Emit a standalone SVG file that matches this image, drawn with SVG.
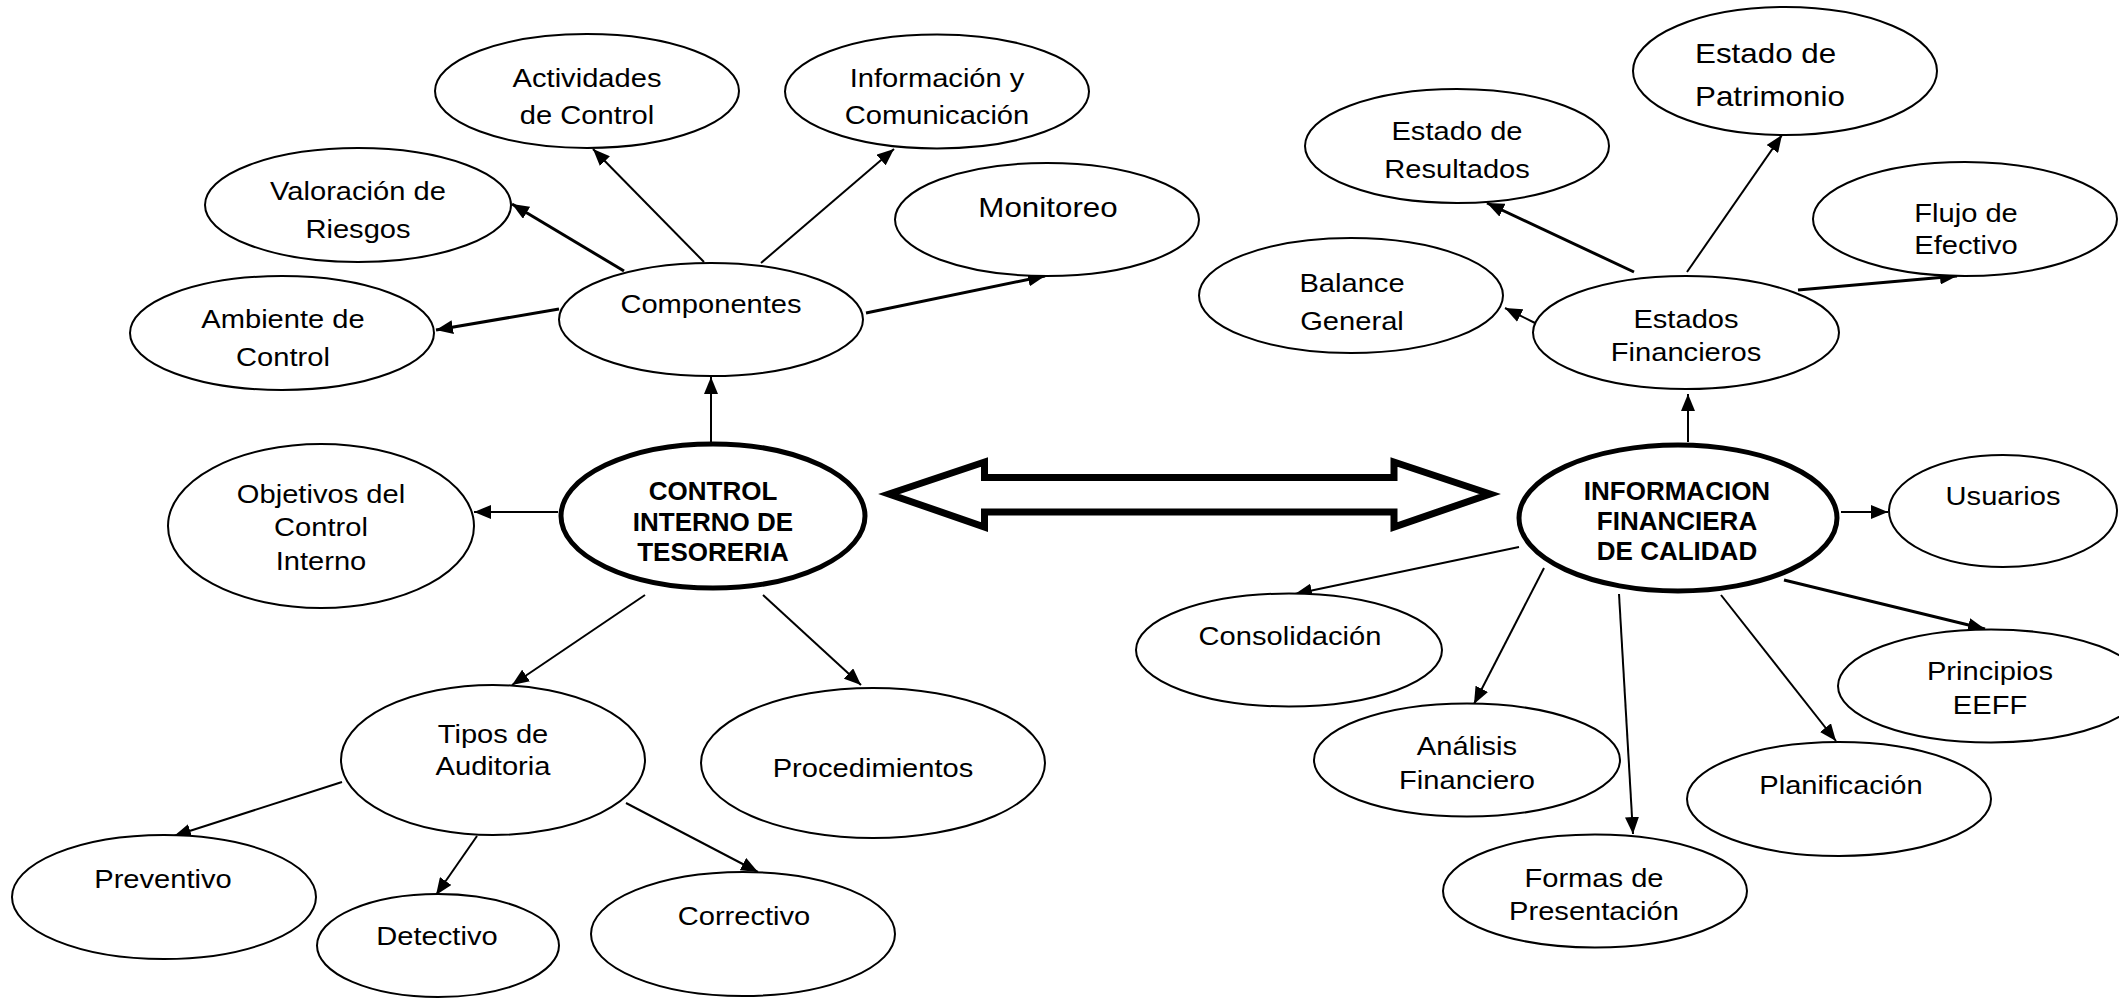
<svg xmlns="http://www.w3.org/2000/svg" width="2119" height="999" viewBox="0 0 2119 999">
<style>
.n{fill:#fff;stroke:#000;stroke-width:2}
.m{fill:#fff;stroke:#000;stroke-width:5}
.t{font-family:"Liberation Sans",Arial,sans-serif;font-size:26px;text-anchor:middle;fill:#000}
.tl{font-family:"Liberation Sans",Arial,sans-serif;font-size:28px;text-anchor:middle;fill:#000}
.b{font-family:"Liberation Sans",Arial,sans-serif;font-size:26px;font-weight:bold;text-anchor:middle;fill:#000}
.c{stroke:#000;stroke-width:2;fill:none;marker-end:url(#ah)}
.c3{stroke:#000;stroke-width:3;fill:none;marker-end:url(#ah)}
</style>
<defs>
<marker id="ah" markerUnits="userSpaceOnUse" markerWidth="18" markerHeight="14" refX="17" refY="7" orient="auto">
<path d="M0,0 L17,7 L0,14 z" fill="#000"/>
</marker>
</defs>
<rect width="2119" height="999" fill="#fff"/>

<g id="connectors">
<line class="c" x1="711" y1="443" x2="711" y2="377"/>
<line class="c3" x1="624" y1="271" x2="512" y2="204"/>
<line class="c" x1="704" y1="262" x2="593" y2="149"/>
<line class="c" x1="761" y1="263" x2="894" y2="149"/>
<line class="c3" x1="866" y1="313" x2="1045" y2="276"/>
<line class="c3" x1="559" y1="309" x2="436" y2="330"/>
<line class="c" x1="558" y1="512" x2="474" y2="512"/>
<line class="c" x1="645" y1="595" x2="512" y2="685"/>
<line class="c" x1="763" y1="595" x2="861" y2="685"/>
<line class="c" x1="342" y1="782" x2="174" y2="836"/>
<line class="c" x1="477" y1="836" x2="436" y2="895"/>
<line class="c" x1="626" y1="803" x2="758" y2="872"/>
<line class="c" x1="1688" y1="442" x2="1688" y2="394"/>
<line class="c3" x1="1634" y1="272" x2="1487" y2="203"/>
<line class="c" x1="1687" y1="272" x2="1782" y2="135"/>
<line class="c3" x1="1798" y1="290" x2="1957" y2="276"/>
<line class="c" x1="1535" y1="323" x2="1505" y2="308"/>
<line class="c" x1="1841" y1="512" x2="1888" y2="512"/>
<line class="c" x1="1519" y1="547" x2="1295" y2="594"/>
<line class="c" x1="1544" y1="568" x2="1474" y2="704"/>
<line class="c" x1="1619" y1="594" x2="1633" y2="834"/>
<line class="c" x1="1721" y1="595" x2="1836" y2="741"/>
<line class="c3" x1="1784" y1="580" x2="1985" y2="629"/>
<polygon points="889,494 984.5,462 984.5,477.5 1394,477.5 1394,462 1490,494 1394,527 1394,512 984.5,512 984.5,527" fill="#fff" stroke="#000" stroke-width="7" stroke-linejoin="miter"/>
</g>

<g id="n-actividades"><ellipse class="n" cx="587" cy="91" rx="152" ry="57"/>
<text class="t" transform="translate(587,87) scale(1.12,1)"><tspan x="0">Actividades</tspan><tspan x="0" dy="37">de Control</tspan></text></g>

<g id="n-informacion"><ellipse class="n" cx="937" cy="91.5" rx="152" ry="57"/>
<text class="t" transform="translate(937,87) scale(1.12,1)"><tspan x="0">Información y</tspan><tspan x="0" dy="37">Comunicación</tspan></text></g>

<g id="n-valoracion"><ellipse class="n" cx="358" cy="205" rx="153" ry="57"/>
<text class="t" transform="translate(358,200) scale(1.12,1)"><tspan x="0">Valoración de</tspan><tspan x="0" dy="38">Riesgos</tspan></text></g>

<g id="n-monitoreo"><ellipse class="n" cx="1047" cy="219.5" rx="152" ry="56.5"/>
<text class="tl" transform="translate(1048,217) scale(1.12,1)"><tspan x="0">Monitoreo</tspan></text></g>

<g id="n-ambiente"><ellipse class="n" cx="282" cy="333" rx="152" ry="57"/>
<text class="t" transform="translate(283,328) scale(1.12,1)"><tspan x="0">Ambiente de</tspan><tspan x="0" dy="38">Control</tspan></text></g>

<g id="n-componentes"><ellipse class="n" cx="711" cy="319.5" rx="152" ry="56.5"/>
<text class="t" transform="translate(711,313) scale(1.12,1)"><tspan x="0">Componentes</tspan></text></g>

<g id="n-control"><ellipse class="m" cx="713" cy="516" rx="152" ry="72"/>
<text class="b"><tspan x="713" y="500">CONTROL</tspan><tspan x="713" y="531">INTERNO DE</tspan><tspan x="713" y="561">TESORERIA</tspan></text></g>

<g id="n-objetivos"><ellipse class="n" cx="321" cy="526" rx="153" ry="82"/>
<text class="t" transform="translate(321,503) scale(1.12,1)"><tspan x="0">Objetivos del</tspan><tspan x="0" dy="33">Control</tspan><tspan x="0" dy="34">Interno</tspan></text></g>

<g id="n-tipos"><ellipse class="n" cx="493" cy="760" rx="152" ry="75"/>
<text class="t" transform="translate(493,743) scale(1.12,1)"><tspan x="0">Tipos de</tspan><tspan x="0" dy="32">Auditoria</tspan></text></g>

<g id="n-procedimientos"><ellipse class="n" cx="873" cy="763" rx="172" ry="75"/>
<text class="t" transform="translate(873,777) scale(1.12,1)"><tspan x="0">Procedimientos</tspan></text></g>

<g id="n-preventivo"><ellipse class="n" cx="164" cy="897" rx="152" ry="62"/>
<text class="t" transform="translate(163,888) scale(1.12,1)"><tspan x="0">Preventivo</tspan></text></g>

<g id="n-detectivo"><ellipse class="n" cx="438" cy="945.5" rx="121" ry="51.5"/>
<text class="t" transform="translate(437,945) scale(1.12,1)"><tspan x="0">Detectivo</tspan></text></g>

<g id="n-correctivo"><ellipse class="n" cx="743" cy="934" rx="152" ry="62"/>
<text class="t" transform="translate(744,925) scale(1.12,1)"><tspan x="0">Correctivo</tspan></text></g>

<g id="n-patrimonio"><ellipse class="n" cx="1785" cy="71" rx="152" ry="64"/>
<text class="tl" style="text-anchor:start" transform="translate(1695,63) scale(1.12,1)"><tspan x="0">Estado de</tspan><tspan x="0" dy="43">Patrimonio</tspan></text></g>

<g id="n-resultados"><ellipse class="n" cx="1457" cy="146" rx="152" ry="57"/>
<text class="t" transform="translate(1457,140) scale(1.12,1)"><tspan x="0">Estado de</tspan><tspan x="0" dy="38">Resultados</tspan></text></g>

<g id="n-flujo"><ellipse class="n" cx="1965" cy="219" rx="152" ry="57"/>
<text class="t" transform="translate(1966,222) scale(1.12,1)"><tspan x="0">Flujo de</tspan><tspan x="0" dy="32">Efectivo</tspan></text></g>

<g id="n-balance"><ellipse class="n" cx="1351" cy="295.5" rx="152" ry="57.5"/>
<text class="t" transform="translate(1352,292) scale(1.12,1)"><tspan x="0">Balance</tspan><tspan x="0" dy="38">General</tspan></text></g>

<g id="n-estados"><ellipse class="n" cx="1686" cy="332.5" rx="153" ry="56.5"/>
<text class="t" transform="translate(1686,328) scale(1.12,1)"><tspan x="0">Estados</tspan><tspan x="0" dy="33">Financieros</tspan></text></g>

<g id="n-infcalidad"><ellipse class="m" cx="1678" cy="518" rx="159" ry="73"/>
<text class="b"><tspan x="1677" y="500">INFORMACION</tspan><tspan x="1677" y="530">FINANCIERA</tspan><tspan x="1677" y="560">DE CALIDAD</tspan></text></g>

<g id="n-usuarios"><ellipse class="n" cx="2003" cy="511" rx="114" ry="56"/>
<text class="t" transform="translate(2003,505) scale(1.12,1)"><tspan x="0">Usuarios</tspan></text></g>

<g id="n-consolidacion"><ellipse class="n" cx="1289" cy="650" rx="153" ry="56.5"/>
<text class="t" transform="translate(1290,645) scale(1.12,1)"><tspan x="0">Consolidación</tspan></text></g>

<g id="n-analisis"><ellipse class="n" cx="1467" cy="760" rx="153" ry="56.5"/>
<text class="t" transform="translate(1467,755) scale(1.12,1)"><tspan x="0">Análisis</tspan><tspan x="0" dy="34">Financiero</tspan></text></g>

<g id="n-formas"><ellipse class="n" cx="1595" cy="891" rx="152" ry="56.5"/>
<text class="t" transform="translate(1594,887) scale(1.12,1)"><tspan x="0">Formas de</tspan><tspan x="0" dy="33">Presentación</tspan></text></g>

<g id="n-planificacion"><ellipse class="n" cx="1839" cy="799" rx="152" ry="57"/>
<text class="t" transform="translate(1841,794) scale(1.12,1)"><tspan x="0">Planificación</tspan></text></g>

<g id="n-principios"><ellipse class="n" cx="1991" cy="686" rx="153" ry="56.5"/>
<text class="t" transform="translate(1990,680) scale(1.12,1)"><tspan x="0">Principios</tspan><tspan x="0" dy="34">EEFF</tspan></text></g>
</svg>
